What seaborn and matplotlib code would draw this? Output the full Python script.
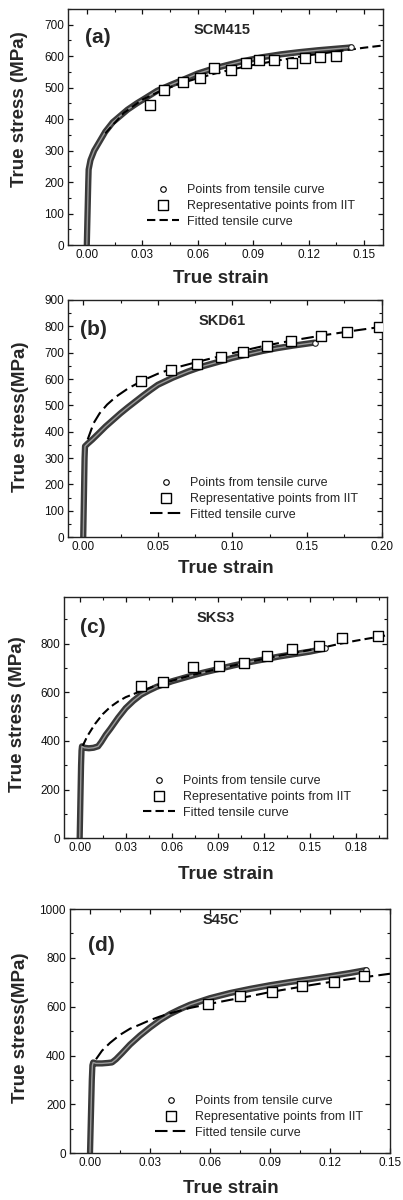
import pandas as pd
import seaborn as sns
import matplotlib.pyplot as plt
from matplotlib.lines import Line2D
from matplotlib.ticker import MultipleLocator

# (a) SCM415
a_tens_strain = [0.0, 0.0002, 0.0004, 0.0006, 0.0008, 0.001, 0.002, 0.004, 0.007, 0.010, 0.014, 0.018,
                 0.022, 0.027, 0.032, 0.038, 0.045, 0.052, 0.060, 0.068, 0.076, 0.085, 0.095, 0.105,
                 0.115, 0.125, 0.135, 0.143]
a_tens_stress = [0, 50, 100, 150, 200, 240, 270, 300, 330, 360, 390, 410,
                 430, 450, 468, 490, 508, 525, 545, 560, 572, 585, 597, 606,
                 613, 619, 624, 628]
a_iit_strain = [0.034, 0.042, 0.052, 0.061, 0.069, 0.078, 0.086, 0.093, 0.101, 0.111, 0.118, 0.126, 0.135]
a_iit_stress = [444, 492, 519, 532, 563, 555, 580, 587, 589, 579, 595, 599, 602]
a_fit_strain = [0.01, 0.02, 0.03, 0.04, 0.05, 0.06, 0.07, 0.08, 0.09, 0.10, 0.11, 0.12, 0.13, 0.14, 0.15, 0.16]
a_fit_stress = [355, 420, 462, 490, 512, 530, 546, 560, 572, 583, 593, 603, 611, 619, 627, 634]

# (b) SKD61
b_tens_strain = [0.0, 0.0003, 0.0006, 0.0009, 0.0012, 0.003, 0.006, 0.010, 0.015, 0.020, 0.025, 0.030,
                 0.035, 0.040, 0.045, 0.050, 0.060, 0.070, 0.080, 0.090, 0.100, 0.110, 0.120, 0.130,
                 0.140, 0.150, 0.155]
b_tens_stress = [0, 100, 200, 300, 345, 355, 370, 392, 420, 445, 470, 493,
                 515, 537, 558, 578, 605, 628, 648, 664, 680, 693, 706, 717,
                 726, 734, 738]
b_iit_strain = [0.039, 0.059, 0.076, 0.092, 0.107, 0.123, 0.139, 0.159, 0.177, 0.198]
b_iit_stress = [594, 635, 657, 685, 703, 726, 745, 764, 777, 799]
b_fit_strain = [0.003, 0.007, 0.011, 0.016, 0.022, 0.030, 0.040, 0.050, 0.060, 0.080, 0.100, 0.120,
                0.140, 0.160, 0.180, 0.200]
b_fit_stress = [371, 433, 470, 503, 533, 564, 595, 620, 640, 670, 698, 724, 746, 765, 782, 798]

# (c) SKS3
c_tens_strain = [0.0, 0.0003, 0.0006, 0.0009, 0.0012, 0.0015, 0.003, 0.006, 0.009, 0.012, 0.014, 0.017,
                 0.020, 0.025, 0.030, 0.035, 0.040, 0.045, 0.050, 0.060, 0.070, 0.080, 0.090, 0.100,
                 0.110, 0.120, 0.130, 0.140, 0.150, 0.160]
c_tens_stress = [0, 100, 200, 300, 360, 378, 372, 370, 372, 378, 395, 425,
                 450, 495, 535, 565, 590, 607, 622, 645, 663, 680, 695, 710,
                 723, 735, 747, 757, 767, 780]
c_iit_strain = [0.040, 0.054, 0.074, 0.091, 0.107, 0.122, 0.138, 0.156, 0.171, 0.194]
c_iit_stress = [625, 643, 704, 707, 722, 748, 776, 791, 821, 830]
c_fit_strain = [0.002, 0.005, 0.010, 0.015, 0.020, 0.025, 0.030, 0.040, 0.050, 0.060, 0.070, 0.080,
                0.090, 0.100, 0.110, 0.120, 0.130, 0.140, 0.150, 0.160, 0.170, 0.180, 0.190, 0.200]
c_fit_stress = [380, 420, 470, 510, 540, 562, 580, 605, 628, 647, 665, 681,
                696, 710, 724, 737, 750, 762, 774, 786, 800, 812, 823, 834]

# (d) S45C
d_tens_strain = [0.0, 0.0003, 0.0006, 0.0009, 0.0012, 0.0016, 0.003, 0.006, 0.009, 0.011, 0.013, 0.016,
                 0.020, 0.025, 0.030, 0.035, 0.040, 0.045, 0.050, 0.060, 0.070, 0.080, 0.090, 0.100,
                 0.110, 0.120, 0.130, 0.138]
d_tens_stress = [0, 100, 200, 300, 360, 372, 368, 368, 370, 372, 385, 410,
                 445, 482, 515, 545, 570, 590, 608, 635, 656, 673, 688, 701,
                 713, 725, 738, 750]
d_iit_strain = [0.059, 0.075, 0.091, 0.106, 0.122, 0.137]
d_iit_stress = [611, 645, 662, 686, 703, 726]
d_fit_strain = [0.003, 0.006, 0.010, 0.015, 0.020, 0.025, 0.030, 0.035, 0.040, 0.050, 0.060, 0.070,
                0.080, 0.090, 0.100, 0.110, 0.120, 0.130, 0.140, 0.150]
d_fit_stress = [385, 420, 452, 485, 510, 527, 545, 560, 573, 595, 612, 628,
                643, 660, 674, 688, 701, 713, 724, 735]

labels = ["Points from tensile curve", "Representative points from IIT", "Fitted tensile curve"]

sns.set_style("ticks")
plt.rcParams['font.family'] = ['Liberation Sans', 'DejaVu Sans']

fig = plt.figure(figsize=(4.03, 12.0), dpi=100)

short_dash = (0, (4, 2))
long_dash = (0, (6, 2.5))

panels = [
    dict(rect=[0.1695, 0.7958, 0.780, 0.1967], tag="(a)", name="SCM415",
         ts=a_tens_strain, tv=a_tens_stress, ps=a_iit_strain, pv=a_iit_stress,
         fs=a_fit_strain, fv=a_fit_stress, ls=short_dash,
         xlim=(-0.01, 0.16), xmaj=0.03, ylim=(0, 750), ymaj=100, ylab="True stress (MPa)",
         tagpos=(0.053, 0.881), namepos=(0.488, 0.911), ylabpos=(-0.154, 0.576), xlabpos=(0.486, -0.14),
         leg=(0.25, 0.165)),
    dict(rect=[0.1695, 0.5523, 0.7777, 0.1978], tag="(b)", name="SKD61",
         ts=b_tens_strain, tv=b_tens_stress, ps=b_iit_strain, pv=b_iit_stress,
         fs=b_fit_strain, fv=b_fit_stress, ls=long_dash,
         xlim=(-0.01, 0.20), xmaj=0.05, ylim=(0, 900), ymaj=100, ylab="True stress(MPa)",
         tagpos=(0.037, 0.874), namepos=(0.492, 0.909), ylabpos=(-0.154, 0.507), xlabpos=(0.503, -0.13),
         leg=(0.261, 0.161)),
    dict(rect=[0.1596, 0.3014, 0.800, 0.2008], tag="(c)", name="SKS3",
         ts=c_tens_strain, tv=c_tens_stress, ps=c_iit_strain, pv=c_iit_stress,
         fs=c_fit_strain, fv=c_fit_stress, ls=short_dash,
         xlim=(-0.01, 0.20), xmaj=0.03, ylim=(0, 990), ymaj=200, ylab="True stress (MPa)",
         tagpos=(0.049, 0.875), namepos=(0.47, 0.916), ylabpos=(-0.144, 0.516), xlabpos=(0.50, -0.152),
         leg=(0.244, 0.171)),
    dict(rect=[0.1737, 0.0389, 0.794, 0.2036], tag="(d)", name="S45C",
         ts=d_tens_strain, tv=d_tens_stress, ps=d_iit_strain, pv=d_iit_stress,
         fs=d_fit_strain, fv=d_fit_stress, ls=long_dash,
         xlim=(-0.01, 0.15), xmaj=0.03, ylim=(0, 1000), ymaj=200, ylab="True stress(MPa)",
         tagpos=(0.056, 0.849), namepos=(0.472, 0.955), ylabpos=(-0.156, 0.513), xlabpos=(0.503, -0.146),
         leg=(0.266, 0.149)),
]

for p in panels:
    ax = fig.add_axes(p['rect'])
    tens = pd.DataFrame({'strain': p['ts'], 'stress': p['tv']})
    iit = pd.DataFrame({'strain': p['ps'], 'stress': p['pv']})
    fit = pd.DataFrame({'strain': p['fs'], 'stress': p['fv']})

    # thick band of overlapping open circles from the tensile test
    sns.lineplot(data=tens, x='strain', y='stress', ax=ax, sort=False, estimator=None,
                 color='#3a3a3a', lw=4.5, zorder=2)
    sns.lineplot(data=tens, x='strain', y='stress', ax=ax, sort=False, estimator=None,
                 color='#9a9a9a', lw=1.0, zorder=2.1)
    sns.lineplot(data=fit, x='strain', y='stress', ax=ax, sort=False, estimator=None,
                 color='black', lw=1.5, ls=p['ls'], zorder=3)
    sns.scatterplot(data=iit, x='strain', y='stress', ax=ax, marker='s', s=48,
                    facecolor='white', edgecolor='black', linewidth=1.0, zorder=4)
    ax.plot(p['ts'][-1], p['tv'][-1], 'o', ms=4, mfc='white', mec='#222222', mew=0.8, zorder=3)

    ax.set_xlim(*p['xlim'])
    ax.set_ylim(*p['ylim'])
    ax.xaxis.set_major_locator(MultipleLocator(p['xmaj']))
    ax.xaxis.set_minor_locator(MultipleLocator(p['xmaj'] / 2))
    ax.yaxis.set_major_locator(MultipleLocator(p['ymaj']))
    ax.yaxis.set_minor_locator(MultipleLocator(p['ymaj'] / 2))
    fmt = '{:.2f}'
    ax.set_xticks([t for t in ax.get_xticks() if p['xlim'][0] <= t <= p['xlim'][1] + 1e-9])
    ax.set_xticklabels([fmt.format(t) for t in ax.get_xticks()])
    ax.tick_params(which='both', direction='in', top=True, right=True, labelsize=8.5,
                   colors='#111111', pad=3)
    ax.tick_params(which='major', length=3.5, width=0.9)
    ax.tick_params(which='minor', length=2, width=0.8)
    for sp in ax.spines.values():
        sp.set_linewidth(1.0)
        sp.set_color('#222222')

    ax.set_xlabel("True strain", fontsize=13.5, fontweight='bold')
    ax.set_ylabel(p['ylab'], fontsize=13.5, fontweight='bold')
    ax.xaxis.set_label_coords(*p['xlabpos'])
    ax.yaxis.set_label_coords(*p['ylabpos'])
    ax.xaxis.label.set_va('center')
    ax.yaxis.label.set_va('center')

    ax.text(p['tagpos'][0], p['tagpos'][1], p['tag'], transform=ax.transAxes,
            fontsize=15, fontweight='bold', ha='left', va='center')
    ax.text(p['namepos'][0], p['namepos'][1], p['name'], transform=ax.transAxes,
            fontsize=10.5, fontweight='bold', ha='center', va='center')

    handles = [
        Line2D([], [], ls='none', marker='o', ms=4, mfc='white', mec='black', mew=0.8),
        Line2D([], [], ls='none', marker='s', ms=6.5, mfc='white', mec='black', mew=1.0),
        Line2D([], [], color='black', lw=1.5, ls=p['ls']),
    ]
    ax.legend(handles, labels, loc='center left', bbox_to_anchor=p['leg'], frameon=False,
              fontsize=9, handlelength=2.6, handletextpad=0.6, labelspacing=0.3,
              borderpad=0, borderaxespad=0)

fig.savefig("out.png", dpi=100)
